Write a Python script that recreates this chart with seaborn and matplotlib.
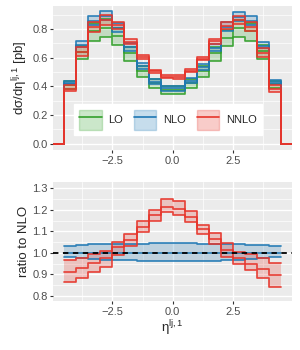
import numpy as np
import matplotlib
matplotlib.use("Agg")
import matplotlib.pyplot as plt
from matplotlib.patches import Patch
from matplotlib.lines import Line2D
import seaborn as sns

# bin edges in eta (18 bins of 0.5)
edges = np.arange(-4.5, 4.51, 0.5)

# LO cross section [pb]: lower, central, upper
lo_dn = [0.38, 0.59, 0.72, 0.745, 0.69, 0.58, 0.465, 0.385, 0.345,
         0.345, 0.385, 0.465, 0.58, 0.68, 0.742, 0.72, 0.593, 0.385]
lo_c = [0.41, 0.64, 0.785, 0.81, 0.75, 0.63, 0.505, 0.42, 0.375,
        0.375, 0.42, 0.505, 0.63, 0.74, 0.805, 0.785, 0.645, 0.415]
lo_up = [0.435, 0.685, 0.84, 0.87, 0.805, 0.675, 0.54, 0.45, 0.40,
         0.40, 0.45, 0.54, 0.675, 0.795, 0.865, 0.84, 0.69, 0.44]

# NLO central [pb] and its scale band relative to central
nlo_c = [0.422, 0.69, 0.856, 0.889, 0.807, 0.672, 0.54, 0.43, 0.385,
         0.385, 0.437, 0.535, 0.67, 0.815, 0.885, 0.857, 0.685, 0.428]
nlo_rup = [1.034, 1.037, 1.039, 1.040, 1.041, 1.042, 1.043, 1.044, 1.044,
           1.044, 1.044, 1.043, 1.042, 1.041, 1.040, 1.038, 1.036, 1.033]
nlo_rdn = [0.980, 0.975, 0.971, 0.968, 0.966, 0.965, 0.963, 0.962, 0.962,
           0.962, 0.962, 0.963, 0.964, 0.966, 0.968, 0.970, 0.974, 0.979]

# NNLO / NLO ratio: central, upper, lower
nn_rc = [0.912, 0.931, 0.951, 0.974, 1.028, 1.060, 1.122, 1.176, 1.215,
         1.204, 1.168, 1.109, 1.065, 1.012, 0.975, 0.950, 0.925, 0.897]
nn_rup = [0.966, 0.977, 0.993, 1.008, 1.052, 1.086, 1.148, 1.199, 1.250,
          1.243, 1.196, 1.129, 1.090, 1.045, 1.005, 0.995, 0.975, 0.952]
nn_rdn = [0.866, 0.884, 0.909, 0.935, 0.990, 1.032, 1.099, 1.150, 1.189,
          1.176, 1.145, 1.087, 1.042, 0.982, 0.948, 0.920, 0.885, 0.840]

colors = {"LO": "#33a02c", "NLO": "#1f78b4", "NNLO": "#e6352b"}

nlo_c_a = np.array(nlo_c)
nlo_up = nlo_c_a * np.array(nlo_rup)
nlo_dn = nlo_c_a * np.array(nlo_rdn)
nn_c = nlo_c_a * np.array(nn_rc)
nn_up = nlo_c_a * np.array(nn_rup)
nn_dn = nlo_c_a * np.array(nn_rdn)

sns.set_theme(style="darkgrid", rc={
    "axes.facecolor": "#EBEBEB",
    "grid.color": "white",
    "axes.edgecolor": "#EBEBEB",
    "xtick.bottom": True, "ytick.left": True,
    "xtick.color": "#333333", "ytick.color": "#333333",
    "xtick.labelcolor": "#4D4D4D", "ytick.labelcolor": "#4D4D4D",
    "xtick.major.size": 2.5, "ytick.major.size": 2.5,
    "xtick.major.width": 0.8, "ytick.major.width": 0.8,
    "xtick.major.pad": 1.5, "ytick.major.pad": 1.5,
})
plt.rcParams["font.family"] = ["Liberation Sans", "DejaVu Sans"]
plt.rcParams["mathtext.fontset"] = "custom"
plt.rcParams["mathtext.rm"] = "Liberation Sans"
plt.rcParams["mathtext.it"] = "Liberation Sans:italic"


def steps(vals, pad=False):
    v = list(vals)
    x = list(edges)
    if pad:
        x = [-5.0] + x + [5.0]
        v = [0.0] + v + [0.0]
    return np.array(x), np.array(v + [v[-1]])


def band(ax, dn, c, up, col, pad=False):
    x, yd = steps(dn, pad)
    _, yu = steps(up, pad)
    _, yc = steps(c, pad)
    ax.fill_between(x, yd, yu, step="post", color=col, alpha=0.22, lw=0)
    for y in (yd, yc, yu):
        sns.lineplot(x=x, y=y, drawstyle="steps-post", color=col, lw=1.25,
                     alpha=0.9, ax=ax, estimator=None, sort=False)


fig = plt.figure(figsize=(3.0, 3.5), dpi=100)
ax1 = fig.add_axes([0.178, 0.571, 0.795, 0.412])
ax2 = fig.add_axes([0.178, 0.140, 0.795, 0.341])

band(ax1, lo_dn, lo_c, lo_up, colors["LO"], pad=True)
band(ax1, nlo_dn, nlo_c_a, nlo_up, colors["NLO"], pad=True)
band(ax1, nn_dn, nn_c, nn_up, colors["NNLO"], pad=True)

band(ax2, nlo_rdn, np.ones(len(nlo_c)), nlo_rup, colors["NLO"])
band(ax2, nn_rdn, nn_rc, nn_rup, colors["NNLO"])
ax2.axhline(1.0, color="black", lw=1.3, ls=(0, (3, 2.5)), zorder=5)

for ax in (ax1, ax2):
    ax.set_xlim(-4.95, 4.95)
    ax.set_xticks([-2.5, 0.0, 2.5])
    ax.set_xticks([-3.75, -1.25, 1.25, 3.75], minor=True)
    ax.set_xticklabels(["\u22122.5", "0.0", "2.5"])
    ax.grid(which="major", color="white", lw=1.0)
    ax.grid(which="minor", color="white", lw=0.5)
    ax.tick_params(labelsize=8, which="major")
    ax.tick_params(which="minor", length=0)
    for s in ax.spines.values():
        s.set_visible(False)

ax1.set_ylim(-0.046, 0.962)
ax1.set_yticks([0.0, 0.2, 0.4, 0.6, 0.8])
ax1.set_yticks([0.1, 0.3, 0.5, 0.7, 0.9], minor=True)
ax1.set_ylabel("d\u03c3/d\u03b7$^{\\mathrm{lj,1}}$ [pb]", fontsize=9.5, labelpad=2)
ax1.set_xlabel("")

ax2.set_ylim(0.776, 1.331)
ax2.set_yticks([0.8, 0.9, 1.0, 1.1, 1.2, 1.3])
ax2.set_yticks([0.85, 0.95, 1.05, 1.15, 1.25], minor=True)
ax2.set_ylabel("ratio to NLO", fontsize=9.5, labelpad=2)
ax2.set_xlabel("\u03b7$^{\\mathrm{lj,1}}$", fontsize=9.5, labelpad=1)

handles = []
for name in ["LO", "NLO", "NNLO"]:
    col = colors[name]
    handles.append((Patch(facecolor=col, edgecolor=col, alpha=0.25, lw=1.0),
                    Line2D([], [], color=col, lw=1.2)))
leg = ax1.legend(handles, ["LO", "NLO", "NNLO"], ncol=3, loc="center",
                 bbox_to_anchor=(0.48, 0.21), fontsize=8, frameon=True,
                 fancybox=False, handlelength=2.0, handleheight=2.4,
                 columnspacing=1.0, handletextpad=0.6, borderpad=0.5)
leg.get_frame().set_facecolor("white")
leg.get_frame().set_edgecolor("white")
leg.get_frame().set_alpha(1.0)

fig.savefig("out.png", dpi=100)
